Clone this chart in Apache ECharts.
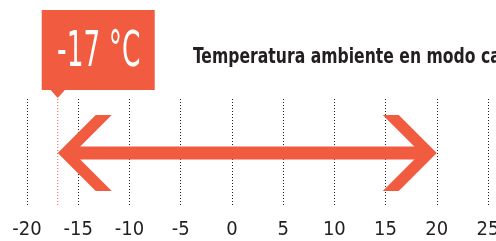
<!DOCTYPE html>
<html>
<head>
<meta charset="utf-8">
<script src="https://cdn.jsdelivr.net/npm/echarts@6/dist/echarts.min.js"></script>
<style>
  html, body { margin: 0; padding: 0; background: #fff; }
  #chart { width: 496px; height: 241px; }
</style>
</head>
<body>
<div id="chart"></div>
<script>
// datos
const titleText = 'Temperatura ambiente en modo calor'
const tempRange = [-17, 20] // desde, hasta (°C)
const axisMin = -20
const axisMax = 25
const axisStep = 5

const red = '#f15b40'
const ink = '#231f20'
const narrow = "'DejaVu Sans Condensed', sans-serif"

const chart = echarts.init(document.getElementById('chart'))

// flecha + etiqueta
const renderArrow = (params, api) => {
  const from = api.value(0)
  const to = api.value(1)
  const p0 = api.coord([from, 0.5])
  const p1 = api.coord([to, 0.5])
  const cs = params.coordSys
  const yc = p0[1]
  const arm = 38
  const w = 16
  const x0 = p0[0]
  const x1 = p1[0]
  return {
    type: 'group',
    children: [
      {
        type: 'line',
        shape: { x1: x0, y1: cs.y, x2: x0, y2: cs.y + cs.height },
        style: { stroke: red, lineWidth: 1, lineDash: [1, 2] },
      },
      {
        type: 'rect',
        shape: { x: x0 + 8, y: yc - 6.5, width: x1 - x0 - 16, height: 13 },
        style: { fill: red },
      },
      {
        type: 'polygon',
        shape: {
          points: [
            [x0, yc], [x0 + arm, yc - arm], [x0 + arm + w, yc - arm],
            [x0 + w, yc], [x0 + arm + w, yc + arm], [x0 + arm, yc + arm],
          ],
        },
        style: { fill: red },
      },
      {
        type: 'polygon',
        shape: {
          points: [
            [x1, yc], [x1 - arm, yc - arm], [x1 - arm - w, yc - arm],
            [x1 - w, yc], [x1 - arm - w, yc + arm], [x1 - arm, yc + arm],
          ],
        },
        style: { fill: red },
      },
      {
        type: 'rect',
        shape: { x: x0 - 16, y: 10, width: 113, height: 80 },
        style: { fill: red },
      },
      {
        type: 'polygon',
        shape: { points: [[x0 - 8, 89], [x0 + 8, 89], [x0, 98]] },
        style: { fill: red },
      },
      {
        type: 'text',
        x: x0 + 41,
        y: 53,
        scaleX: 0.6,
        style: {
          text: from + ' °C',
          fill: '#fff',
          font: '49px ' + narrow,
          align: 'center',
          verticalAlign: 'middle',
        },
      },
    ],
  }
}

const option = {
  animation: false,
  graphic: [
    {
      type: 'text',
      left: 193,
      top: 46,
      scaleX: 0.79,
      style: {
        text: titleText,
        fill: ink,
        font: 'bold 22px ' + narrow,
      },
    },
  ],
  grid: { left: 27, right: 8, top: 99, bottom: 34, outerBoundsMode: 'none', containLabel: false },
  xAxis: {
    type: 'value',
    min: axisMin,
    max: axisMax,
    interval: axisStep,
    axisLine: { show: false },
    axisTick: { show: false },
    axisLabel: {
      color: ink,
      fontFamily: narrow,
      fontSize: 20,
      margin: 13,
      hideOverlap: false,
    },
    splitLine: {
      show: true,
      lineStyle: { color: '#222', width: 1, type: [1, 2] },
    },
  },
  yAxis: { type: 'value', min: 0, max: 1, show: false },
  series: [
    {
      type: 'custom',
      renderItem: renderArrow,
      data: [tempRange],
      encode: { x: [0, 1] },
      z: 5,
    },
  ],
}

chart.setOption(option)
</script>
</body>
</html>
